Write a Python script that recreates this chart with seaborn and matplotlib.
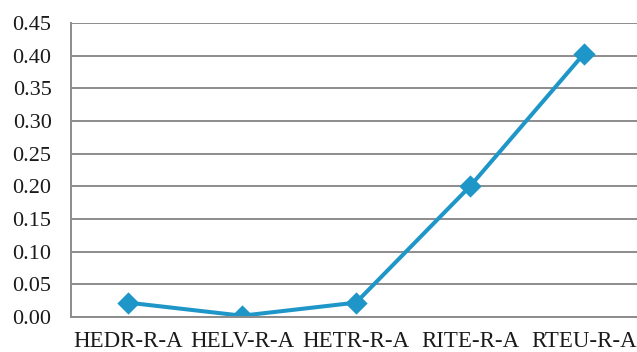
import matplotlib
matplotlib.use("Agg")
import matplotlib.pyplot as plt
import seaborn as sns
import pandas as pd
import numpy as np

categorias = ["HEDR-R-A", "HELV-R-A", "HETR-R-A", "RITE-R-A", "RTEU-R-A"]
valores = [0.022, 0.002, 0.022, 0.200, 0.403]
ticks_y = [0.00, 0.05, 0.10, 0.15, 0.20, 0.25, 0.30, 0.35, 0.40, 0.45]

df = pd.DataFrame({"categoria": categorias, "valor": valores})

sns.set_style("white")
plt.rcParams["font.family"] = ["Liberation Serif", "DejaVu Serif"]

fig = plt.figure(figsize=(6.37, 3.52), dpi=100)
ax = fig.add_axes([0.1115, 0.0994, 0.8948, 0.8353])

gris = "#8c8c8c"
azul = "#1f96c8"

sns.pointplot(data=df, x="categoria", y="valor", color=azul, markers="D",
              linewidth=2.9, markersize=9, ax=ax)

ax.set_xlim(-0.5, len(categorias) - 0.5)
ax.set_ylim(0, 0.45)
ax.set_yticks(ticks_y)
ax.set_yticklabels([f"{t:.2f}" for t in ticks_y])
ax.yaxis.grid(True, color=gris, linewidth=1.4)
ax.set_axisbelow(True)

# separadores de categoria en el eje x
ax.set_xticks(np.arange(-0.5, len(categorias), 1.0), minor=True)
ax.tick_params(axis="x", which="minor", length=3.6, width=1.4, color=gris, direction="out")
ax.tick_params(axis="x", which="major", length=0, labelsize=16.5, pad=10, colors="#1a1a1a")
ax.tick_params(axis="y", length=5, width=1.4, color=gris, labelsize=16, pad=9, colors="#1a1a1a")

ax.set_xlabel("")
ax.set_ylabel("")
for lado in ["top", "right"]:
    ax.spines[lado].set_visible(False)
for lado in ["left", "bottom"]:
    ax.spines[lado].set_color(gris)
    ax.spines[lado].set_linewidth(1.4)

fig.savefig("out.png", dpi=100)
